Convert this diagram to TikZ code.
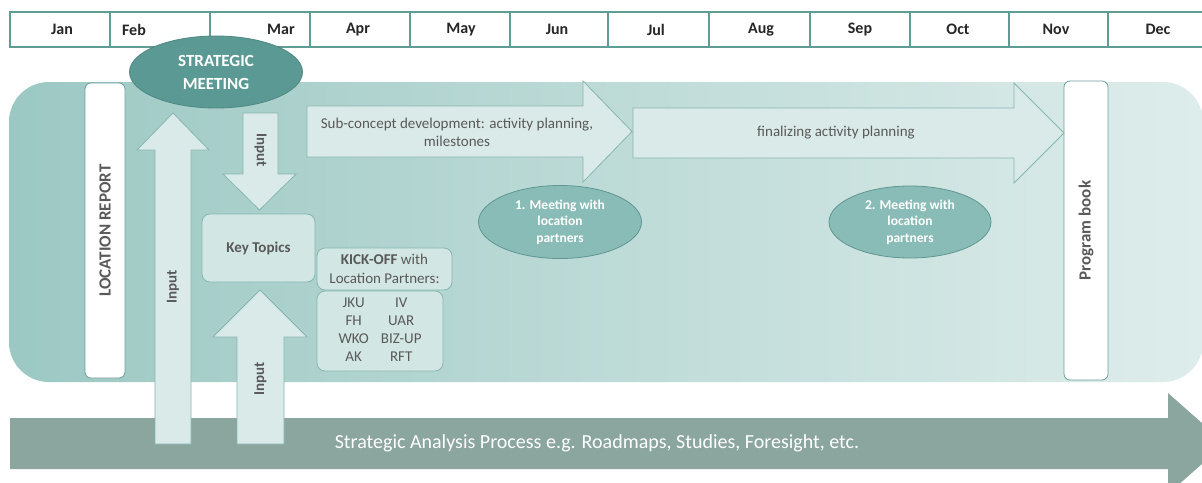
\documentclass[tikz,border=0pt]{standalone}
\usepackage{fontspec}
\setmainfont{Carlito}
\usepackage{tikz}
\usepackage{xcolor}
\usetikzlibrary{shapes.geometric}
\definecolor{hdrline}{HTML}{5F9C95}
\definecolor{panell}{HTML}{9CC8C3}
\definecolor{panelr}{HTML}{DEEDEB}
\definecolor{arrfill}{HTML}{DAEAE8}
\definecolor{arrline}{HTML}{86B6B1}
\definecolor{boxline}{HTML}{6E9E99}
\definecolor{kbfill}{HTML}{D2E6E3}
\definecolor{stratfill}{HTML}{5B9A94}
\definecolor{stratline}{HTML}{4F8781}
\definecolor{meetfill}{HTML}{8ABCB7}
\definecolor{meetline}{HTML}{5E9691}
\definecolor{sapfill}{HTML}{8AA69E}
\definecolor{txtgray}{HTML}{595959}

\begin{document}
\begin{tikzpicture}[x=1pt,y=-1pt,
month/.style={font=\bfseries\fontsize{16}{18}\selectfont,text=black!85},
blockarr/.style={fill=arrfill,draw=arrline,line width=0.8pt,line join=miter},
wbox/.style={rectangle,rounded corners=6pt,fill=white,draw=boxline,line width=0.8pt,inner sep=0pt},
wlabel/.style={text=txtgray,font=\bfseries\fontsize{17}{20}\selectfont},
lbox/.style={rectangle,rounded corners=8pt,fill=kbfill,draw=arrline,line width=0.8pt,inner sep=0pt,text=txtgray,align=center},
meet/.style={ellipse,fill=meetfill,draw=meetline,line width=0.8pt,inner sep=0pt,align=center,text=white,font=\bfseries\fontsize{13.5}{16.5}\selectfont},
txt/.style={text=txtgray,font=\fontsize{15}{18}\selectfont,align=center},
inp/.style={text=txtgray,font=\bfseries\fontsize{15}{17}\selectfont}]
\useasboundingbox (0,0) rectangle (1202,482);
\clip (0,0) rectangle (1202,482);
\fill[white] (0,0) rectangle (1202,482);
\draw[hdrline,line width=1.2pt] (10,12) rectangle (1215,47);
\foreach \X in {110,210,310,410,510,608,709,810,910,1009,1108}
 \draw[hdrline,line width=1.2pt] (\X,12) -- (\X,47);
\foreach \M/\X in {Jan/62,Feb/134,Mar/281,Apr/358,May/461,Jun/557,Jul/656,Aug/761,Sep/860,Oct/958,Nov/1056,Dec/1158}
 \node[month] (m\M) at (\X,29.5) {\M};
\shade[left color=panell,right color=panelr,rounded corners=40pt] (9,82) rectangle (1203,382);
\fill[sapfill] (10,418) -- (1168,418) -- (1168,393) -- (1225,443.5) -- (1168,494) -- (1168,469) -- (10,469) -- cycle;
\node[text=white,font=\fontsize{20}{22}\selectfont] (sap) at (597,443.5) {Strategic Analysis Process e.g. Roadmaps, Studies, Foresight, etc.};
\node[wbox,minimum width=40pt,minimum height=295pt] (locrep) at (105,230.5) {};
\node[wlabel,rotate=90] at (locrep) {LOCATION REPORT};
\node[wbox,minimum width=44pt,minimum height=299pt] (progbook) at (1086,230.5) {};
\node[wlabel,rotate=90] at (progbook) {Program book};
\draw[blockarr] (307,106) -- (583,106) -- (583,81) -- (632,131.5) -- (583,182) -- (583,157) -- (307,157) -- cycle;
\node[txt] (subc) at (457,132) {Sub-concept development: activity planning,\\milestones};
\draw[blockarr] (633,108) -- (1014,108) -- (1014,83) -- (1064,133) -- (1014,183) -- (1014,158) -- (633,158) -- cycle;
\node[txt] (final) at (836,133) {finalizing activity planning};
\node[lbox,minimum width=113pt,minimum height=68pt,font=\bfseries\fontsize{15}{17}\selectfont] (keytop) at (258.5,248) {Key Topics};
\node[lbox,minimum width=135pt,minimum height=42pt,font=\fontsize{15}{19}\selectfont] (kick) at (384.5,269) {\textbf{KICK-OFF} with\\Location Partners:};
\node[lbox,minimum width=126pt,minimum height=80pt,font=\fontsize{15}{18}\selectfont] (partners) at (380,331) {\setlength{\tabcolsep}{6pt}\begin{tabular}{cc}JKU & IV\\ FH & UAR\\ WKO & BIZ-UP\\ AK & RFT\end{tabular}};
\draw[blockarr] (155,444) -- (155,150) -- (137,150) -- (173,113) -- (209,150) -- (191,150) -- (191,444) -- cycle;
\node[inp,rotate=90] (in1) at (173,287) {Input};
\draw[blockarr] (243,113) -- (278,113) -- (278,174) -- (296,174) -- (259.5,210) -- (223,174) -- (243,174) -- cycle;
\node[inp,rotate=-90] (in2) at (260.5,150) {Input};
\draw[blockarr] (237,444) -- (237,337) -- (213,337) -- (260,290) -- (307,337) -- (284,337) -- (284,444) -- cycle;
\node[inp,rotate=90] (in3) at (260.5,379) {Input};
\node[ellipse,fill=stratfill,draw=stratline,line width=0.8pt,inner sep=0pt,minimum width=173pt,minimum height=72pt,align=center,text=white,font=\bfseries\fontsize{17}{23}\selectfont] (strat) at (216,72) {STRATEGIC\\MEETING};
\node[meet,minimum width=163pt,minimum height=73pt] (meet1) at (560,222) {1. Meeting with\\location\\partners};
\node[meet,minimum width=162pt,minimum height=72pt] (meet2) at (910,222) {2. Meeting with\\location\\partners};
\end{tikzpicture}
\end{document}
